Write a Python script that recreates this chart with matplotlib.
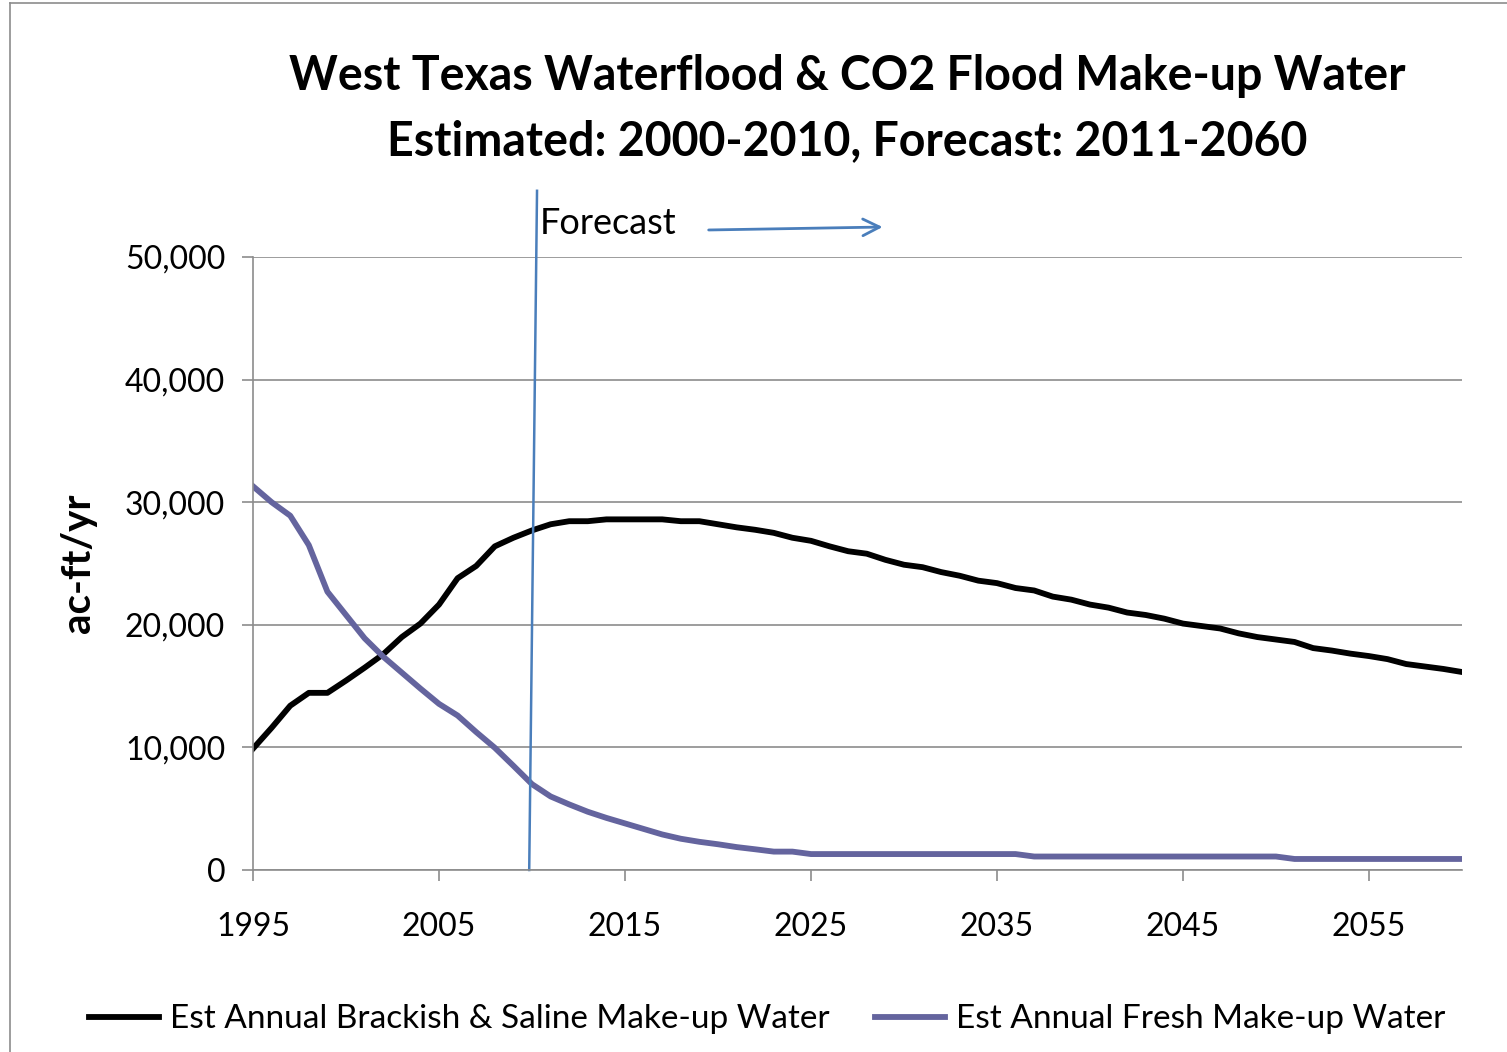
import numpy as np
import matplotlib.pyplot as plt
from matplotlib.ticker import FuncFormatter, FixedLocator, MultipleLocator

plt.rcParams['font.family'] = ['Lato', 'DejaVu Sans']

years = list(range(1995, 2061))

brackish = [9900, 11600, 13400, 14450, 14450, 15450, 16500, 17600, 19000, 20100,
            21650, 23800, 24800, 26400, 27100, 27700, 28200, 28450, 28450, 28600,
            28600, 28600, 28600, 28450, 28450, 28200, 27950, 27750, 27500, 27100,
            26850, 26400, 26000, 25800, 25300, 24900, 24700, 24300, 24000, 23600,
            23400, 23000, 22800, 22300, 22050, 21650, 21400, 21000, 20800, 20500,
            20100, 19900, 19700, 19300, 19000, 18800, 18600, 18100, 17900, 17650,
            17450, 17200, 16800, 16600, 16400, 16150]

fresh = [31300, 30000, 28900, 26500, 22700, 20800, 18900, 17400, 16100, 14800,
         13550, 12600, 11250, 9970, 8500, 7000, 6000, 5350, 4750, 4250,
         3800, 3350, 2900, 2550, 2300, 2100, 1870, 1690, 1500, 1500,
         1300, 1300, 1300, 1300, 1300, 1300, 1300, 1300, 1300, 1300,
         1300, 1300, 1100, 1100, 1100, 1100, 1100, 1100, 1100, 1100,
         1100, 1100, 1100, 1100, 1100, 1100, 900, 900, 900, 900,
         900, 900, 900, 900, 900, 900]

year_ticks = list(range(1995, 2061, 10))
labels = ['Est Annual Brackish & Saline Make-up Water', 'Est Annual Fresh Make-up Water']
forecast_start = 2010

fig = plt.figure(figsize=(15.07, 10.52), dpi=100)
ax = fig.add_axes([0.1679, 0.173, 0.8022, 0.5827])

ax.plot(years, brackish, color='black', lw=4.2, label=labels[0], solid_joinstyle='round')
ax.plot(years, fresh, color='#64649e', lw=4.2, label=labels[1], solid_joinstyle='round')

ax.set_xlim(1995, 2060)
ax.set_ylim(0, 50000)
ax.xaxis.set_major_locator(FixedLocator(year_ticks))
ax.yaxis.set_major_locator(MultipleLocator(10000))
ax.yaxis.set_major_formatter(FuncFormatter(lambda v, p: f'{int(v):,}'))
ax.grid(axis='y', color='#8c8c8c', lw=1.2)
ax.set_axisbelow(True)
for s in ['top', 'right']:
    ax.spines[s].set_visible(False)
for s in ['left', 'bottom']:
    ax.spines[s].set_color('#8c8c8c')
    ax.spines[s].set_linewidth(1.2)
ax.tick_params(axis='both', colors='#8c8c8c', length=8, width=1.2, labelcolor='black',
               labelsize=23)
ax.tick_params(axis='y', pad=12)
ax.tick_params(axis='x', pad=22)
ax.set_ylabel('ac-ft/yr', fontsize=29, fontweight='bold', labelpad=20)

# forecast marker
ax.plot([forecast_start + 0.27, forecast_start - 0.15], [55400, 0], color='#4a7ebb',
        lw=1.8, clip_on=False)
ax.text(forecast_start + 0.4, 52700, 'Forecast', fontsize=26, va='center', ha='left')
ax.annotate('', xy=(forecast_start + 19.0, 52450), xytext=(forecast_start + 9.35, 52200),
            arrowprops=dict(arrowstyle='->', color='#4a7ebb', lw=2, mutation_scale=30),
            annotation_clip=False)

fig.text(0.562, 0.928, 'West Texas Waterflood & CO2 Flood Make-up Water',
         fontsize=33.5, fontweight='bold', ha='center', va='center')
fig.text(0.562, 0.866, 'Estimated: 2000-2010, Forecast: 2011-2060',
         fontsize=33.5, fontweight='bold', ha='center', va='center')

fig.legend(loc='center', bbox_to_anchor=(0.509, 0.031), ncol=2, frameon=False,
           fontsize=24, handlelength=2.1, columnspacing=1.35, handletextpad=0.33)

# outer border of the chart area
fig.add_artist(plt.Line2D([0.0065, 0.0065], [0, 0.997], color='#8c8c8c', lw=1.2))
fig.add_artist(plt.Line2D([0.0065, 1], [0.997, 0.997], color='#8c8c8c', lw=1.2))

fig.savefig('out.png', dpi=100)
